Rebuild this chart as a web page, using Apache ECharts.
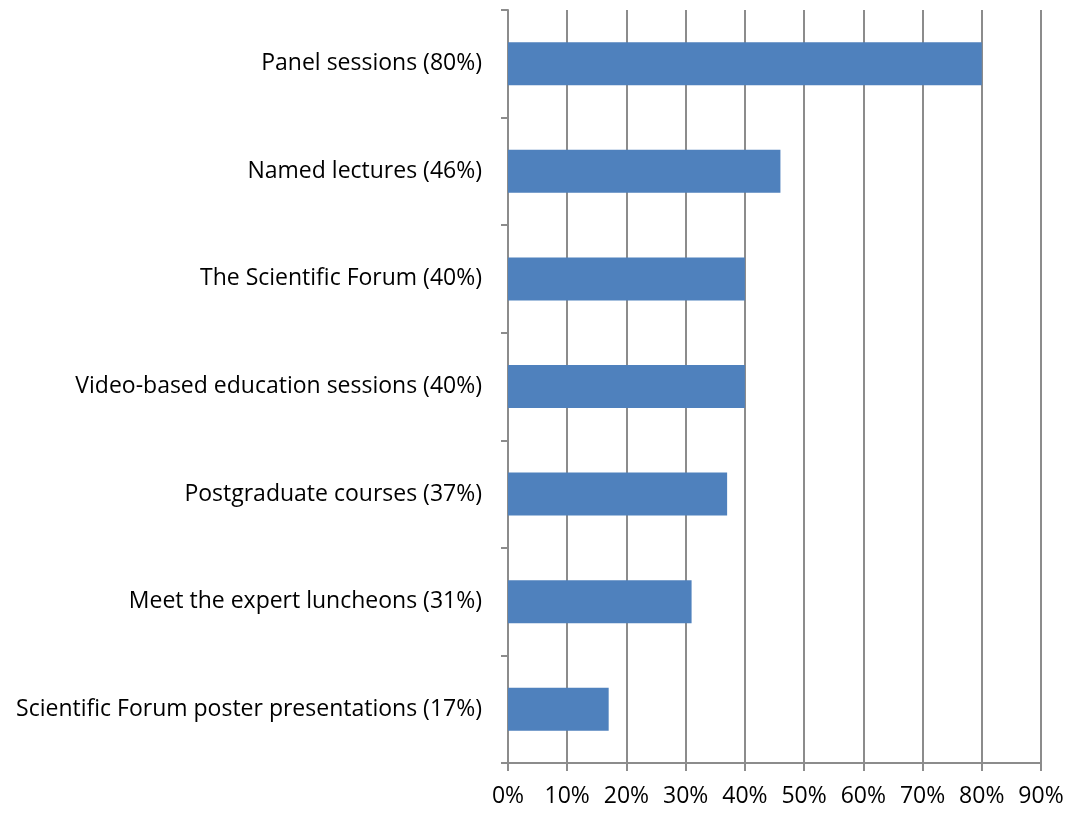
<!DOCTYPE html>
<html>
<head>
<meta charset="utf-8">
<script src="https://cdn.jsdelivr.net/npm/echarts@6/dist/echarts.min.js"></script>
<style>
    html, body { margin: 0; padding: 0; background: #fff; }
    #chart { width: 1069px; height: 814px; }
</style>
</head>
<body>
<div id="chart"></div>
<script>
var categories = [
    'Panel sessions (80%)',
    'Named lectures (46%)',
    'The Scientific Forum (40%)',
    'Video-based education sessions (40%)',
    'Postgraduate courses (37%)',
    'Meet the expert luncheons (31%)',
    'Scientific Forum poster presentations (17%)'
]
var values = [80, 46, 40, 40, 37, 31, 17]
var xTicks = { min: 0, max: 90, interval: 10 }

var axisGray = '#8c8c8c'
var font = '"Open Sans", sans-serif'

var option = {
    animation: false,
    grid: { left: 508, right: 28, top: 10, bottom: 51, containLabel: false },
    xAxis: {
        type: 'value',
        min: xTicks.min,
        max: xTicks.max,
        interval: xTicks.interval,
        axisLine: { show: true, lineStyle: { color: axisGray, width: 2 } },
        axisTick: { show: true, length: 8, lineStyle: { color: axisGray, width: 2 } },
        splitLine: { show: true, lineStyle: { color: axisGray, width: 2 } },
        axisLabel: {
            formatter: '{value}%',
            color: '#000',
            fontSize: 23,
            fontFamily: font,
            margin: 22
        }
    },
    yAxis: {
        type: 'category',
        inverse: true,
        data: categories,
        axisLine: { show: true, lineStyle: { color: axisGray, width: 2 } },
        axisTick: { show: true, length: 7, lineStyle: { color: axisGray, width: 2 } },
        axisLabel: {
            color: '#000',
            fontSize: 23,
            fontFamily: font,
            margin: 26
        }
    },
    series: [{
        type: 'bar',
        data: values,
        barWidth: 43,
        itemStyle: { color: '#4f81bd' }
    }]
}

echarts.init(document.getElementById('chart')).setOption(option)
</script>
</body>
</html>
